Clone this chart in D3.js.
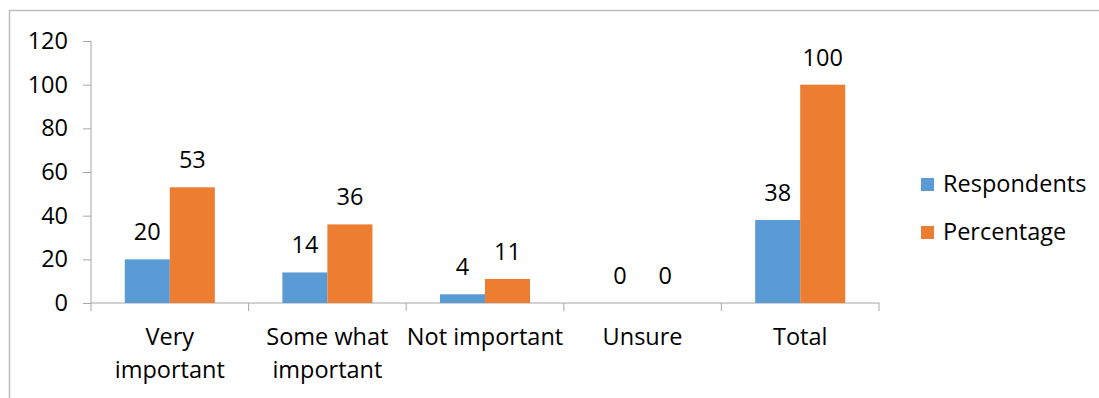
<!DOCTYPE html>
<html>
<head>
<meta charset="utf-8">
<script src="https://cdn.jsdelivr.net/npm/d3@7"></script>
<style>
  html, body { margin: 0; padding: 0; background: #fff; }
  svg { display: block; }
  text { font-family: "Open Sans", Lato, sans-serif; fill: #000; }
</style>
</head>
<body>
<svg id="chart" width="1099" height="398"></svg>
<script>
// Survey answers: how important is it?
const categories = [["Very", "important"], ["Some what", "important"], ["Not important"], ["Unsure"], ["Total"]];
const seriesNames = ["Respondents", "Percentage"];
const respondents = [20, 14, 4, 0, 38];
const percentage = [53, 36, 11, 0, 100];
const yTicks = [0, 20, 40, 60, 80, 100, 120];
const colors = ["#5B9BD5", "#ED7D31"];

const svg = d3.select("#chart");
const W = 1099, H = 398;
const plot = { left: 91, right: 879, top: 41, bottom: 303 };
const fontSize = 23.5;

// outer chart frame (top and left edges show)
svg.append("rect")
  .attr("x", 9.5).attr("y", 10.5)
  .attr("width", W + 20).attr("height", H + 20)
  .attr("fill", "none").attr("stroke", "#BFBFBF").attr("stroke-width", 1.5);

const catKeys = categories.map(c => c.join(" "));
const x0 = d3.scaleBand().domain(catKeys).range([plot.left, plot.right]).paddingInner(0).paddingOuter(0);
const bw = x0.bandwidth();
const barW = bw / 3.5;
const x1 = d3.scaleBand().domain(seriesNames).range([bw / 2 - barW, bw / 2 + barW]);
const y = d3.scaleLinear().domain([0, 120]).range([plot.bottom, plot.top]);

// y axis
const yAxis = svg.append("g").attr("transform", `translate(${plot.left},0)`)
  .call(d3.axisLeft(y).tickValues(yTicks).tickSize(8).tickPadding(15));
yAxis.select(".domain").attr("stroke", "#A6A6A6").attr("d", `M0,${plot.top}V${plot.bottom}`);
yAxis.selectAll(".tick line").attr("stroke", "#A6A6A6");
yAxis.selectAll(".tick text").style("font-size", fontSize + "px").attr("fill", "#000");

// x axis with ticks between categories
const xg = svg.append("g").attr("transform", `translate(0,${plot.bottom})`);
xg.append("line").attr("x1", plot.left).attr("x2", plot.right)
  .attr("stroke", "#A6A6A6").attr("stroke-width", 1);
const bounds = catKeys.map(k => x0(k)).concat([x0(catKeys[catKeys.length - 1]) + bw]);
xg.selectAll("line.tick").data(bounds).join("line").attr("class", "tick")
  .attr("x1", d => d).attr("x2", d => d).attr("y1", 0).attr("y2", 8)
  .attr("stroke", "#A6A6A6");
xg.selectAll("text.cat").data(categories).join("text").attr("class", "cat")
  .attr("text-anchor", "middle")
  .attr("x", (d, i) => x0(catKeys[i]) + bw / 2)
  .style("font-size", fontSize + "px")
  .selectAll("tspan").data(d => d).join("tspan")
  .attr("x", function () { return d3.select(this.parentNode).attr("x"); })
  .attr("y", (d, i) => 42 + i * 33)
  .text(d => d);

// bars
const data = catKeys.map((k, i) => ({ key: k, values: [respondents[i], percentage[i]] }));
const groups = svg.append("g").selectAll("g").data(data).join("g")
  .attr("transform", d => `translate(${x0(d.key)},0)`);
groups.selectAll("rect").data(d => d.values.map((v, j) => ({ s: seriesNames[j], v, j })))
  .join("rect")
  .attr("x", d => x1(d.s)).attr("width", x1.bandwidth())
  .attr("y", d => y(d.v)).attr("height", d => y(0) - y(d.v))
  .attr("fill", d => colors[d.j]);
groups.selectAll("text").data(d => d.values.map((v, j) => ({ s: seriesNames[j], v, j })))
  .join("text")
  .attr("text-anchor", "middle")
  .attr("x", d => x1(d.s) + x1.bandwidth() / 2)
  .attr("y", d => y(d.v) - 19)
  .style("font-size", fontSize + "px")
  .text(d => d.v);

// legend
const lg = svg.append("g").attr("transform", "translate(921,0)");
seriesNames.forEach((s, i) => {
  const cy = 184 + i * 48;
  lg.append("rect").attr("x", 0).attr("y", cy - 6).attr("width", 13).attr("height", 13).attr("fill", colors[i]);
  lg.append("text").attr("x", 22).attr("y", cy + 8).style("font-size", fontSize + "px").text(s);
});
</script>
</body>
</html>
